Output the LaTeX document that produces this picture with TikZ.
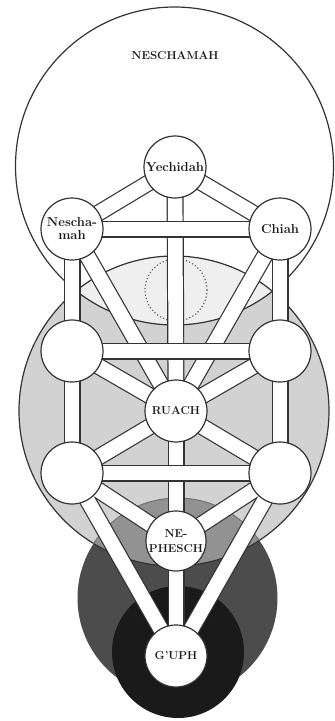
\documentclass[tikz,border=0pt]{standalone}
\usepackage{fontspec}
\definecolor{ringgray}{HTML}{D2D2D2}
\definecolor{lensone}{HTML}{EFEFEF}
\definecolor{lenstwo}{HTML}{929292}
\definecolor{darkring}{HTML}{4C4C4C}
\definecolor{blackring}{HTML}{1A1A1A}
\definecolor{ink}{HTML}{333333}
\begin{document}
\begin{tikzpicture}[x=1pt,y=-1pt,
  ol/.style={draw=ink, line width=1.2pt},
  barout/.style={draw=ink, line width=17pt},
  barin/.style={draw=white, line width=14.6pt},
  sephira/.style={circle, draw=ink, line width=1.2pt, fill=white, minimum size=62pt,
    inner sep=0pt, align=center, text=black!90},
  lowname/.style={font=\bfseries\fontsize{13}{13}\selectfont},
  capname/.style={font=\bfseries\fontsize{11.5}{15.5}\selectfont},
  daath/.style={draw=black!60, line width=1.2pt, dash pattern=on 1.2pt off 2.2pt}]
\useasboundingbox (0,0) rectangle (335,721);
% spheres of the soul
\fill[white] (174.5,166) circle (159pt);
\fill[ringgray] (174,411) circle (155pt);
\begin{scope}
  \clip (174.5,166) circle (159pt);
  \fill[lensone] (174,411) circle (155pt);
\end{scope}
\fill[darkring] (177.5,598) circle (100pt);
\begin{scope}
  \clip (174,411) circle (155pt);
  \fill[lenstwo] (177.5,598) circle (100pt);
\end{scope}
\fill[blackring] (178,652) circle (66pt);
\draw[ol] (174.5,166) circle (159pt);
\draw[ol] (174,411) circle (155pt);
\begin{scope}
  \clip (174,411) circle (155pt);
  \draw[draw=black!55, line width=1pt] (177.5,598) circle (100pt);
\end{scope}
\draw[daath] (176,290) circle (31pt);
% positions of the sephiroth
\coordinate (Y)  at (175,167);
\coordinate (Nm) at (72,229);
\coordinate (Ch) at (280,229);
\coordinate (L1) at (72,351);
\coordinate (R1) at (280,351);
\coordinate (Ru) at (176,411);
\coordinate (L2) at (72,473);
\coordinate (R2) at (280,473);
\coordinate (Ne) at (176,541);
\coordinate (G)  at (176,656);
% paths
\foreach \a/\b in {Y/Nm,Y/Ch,Y/Ru,Nm/L1,Ch/R1,Nm/Ru,Ch/Ru,L1/Ru,R1/Ru,L1/L2,R1/R2,Ru/L2,Ru/R2,Ru/Ne,L2/Ne,R2/Ne,L2/G,R2/G,Ne/G}
  \draw[barout] (\a) -- (\b);
\foreach \a/\b in {Y/Nm,Y/Ch,Y/Ru,Nm/L1,Ch/R1,Nm/Ru,Ch/Ru,L1/Ru,R1/Ru,L1/L2,R1/R2,Ru/L2,Ru/R2,Ru/Ne,L2/Ne,R2/Ne,L2/G,R2/G,Ne/G}
  \draw[barin] (\a) -- (\b);
\foreach \a/\b in {Nm/Ch,L1/R1,L2/R2}{
  \draw[barout] (\a) -- (\b);
  \draw[barin] (\a) -- (\b);
}
% sephiroth
\node[sephira, lowname] (nY)  at (Y)  {Yechidah};
\node[sephira, lowname] (nNm) at (Nm) {Nescha-\\mah};
\node[sephira, lowname] (nCh) at (Ch) {Chiah};
\node[sephira] (nL1) at (L1) {};
\node[sephira] (nR1) at (R1) {};
\node[sephira, capname] (nRu) at (Ru) {RUACH};
\node[sephira] (nL2) at (L2) {};
\node[sephira] (nR2) at (R2) {};
\node[sephira, capname, minimum size=60pt] (nNe) at (Ne) {NE-\\PHESCH};
\node[sephira, capname] (nG) at (G) {G'UPH};
\node[capname, text=black!90] (title) at (175,56) {NESCHAMAH};
\end{tikzpicture}
\end{document}
